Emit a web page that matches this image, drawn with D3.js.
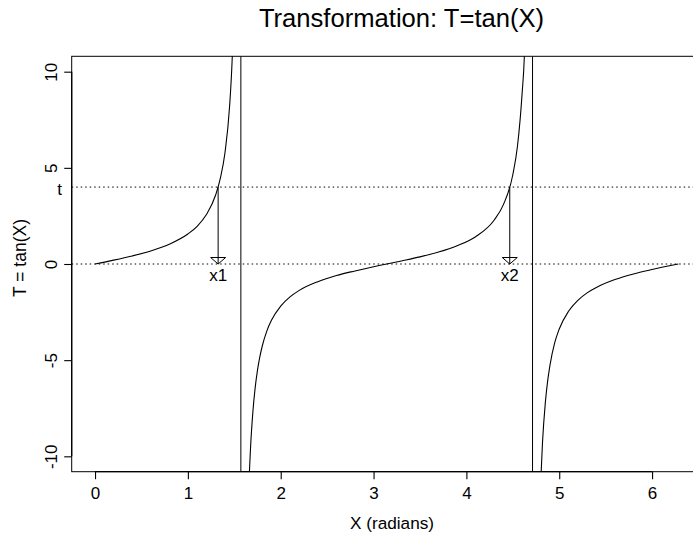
<!DOCTYPE html>
<html>
<head>
<meta charset="utf-8">
<script src="https://cdn.jsdelivr.net/npm/d3@7"></script>
<style>
  body { margin: 0; background: #fff; }
  svg { display: block; font-family: "Liberation Sans", Arial, sans-serif; }
</style>
</head>
<body>
<div id="chart"></div>
<script>
// curve, one list per branch
const xBranch1 = [0, 0.2, 0.4, 0.6, 0.8, 1.0, 1.1, 1.2, 1.3, 1.35, 1.4, 1.45, 1.475, 1.5, 1.52];
const tBranch1 = [0, 0.20, 0.42, 0.68, 1.03, 1.56, 1.96, 2.57, 3.60, 4.46, 5.80, 8.24, 10.4, 14.1, 19.7];

const xBranch2 = [1.62, 1.65, 1.675, 1.7, 1.725, 1.75, 1.775, 1.8, 1.85, 1.9, 2.0, 2.1, 2.2, 2.4, 2.6, 2.8, 3.0, 3.1416, 3.3, 3.5, 3.7, 3.9, 4.1, 4.3, 4.4, 4.5, 4.55, 4.6, 4.625, 4.65, 4.68];
const tBranch2 = [-19.9, -12.6, -9.56, -7.70, -6.43, -5.52, -4.83, -4.29, -3.49, -2.93, -2.19, -1.71, -1.37, -0.92, -0.60, -0.36, -0.14, 0, 0.16, 0.37, 0.62, 0.95, 1.42, 2.29, 3.10, 4.64, 6.12, 8.86, 10.9, 16.0, 30.9];

const xBranch3 = [4.74, 4.76, 4.78, 4.8, 4.82, 4.85, 4.875, 4.9, 4.95, 5.0, 5.1, 5.2, 5.3, 5.4, 5.6, 5.8, 6.0, 6.2, 6.2832];
const tBranch3 = [-36.2, -21.0, -14.3, -11.4, -9.26, -7.22, -6.09, -5.27, -4.12, -3.38, -2.46, -1.89, -1.50, -1.22, -0.81, -0.52, -0.29, -0.08, 0];

const asymptotes = [1.5708, 4.7124];
const tLevel = 4;
const roots = [1.326, 4.467];
const rootLabels = ['x1', 'x2'];

const xTicks = [0, 1, 2, 3, 4, 5, 6];
const yTicks = [-10, -5, 0, 5, 10];

const width = 693, height = 539;
const margin = { left: 71.7, top: 56.3 };
const plotW = 630, plotH = 415.4;

const fmt = d => String(d); // plain hyphen minus, like R

const svg = d3.select('#chart').append('svg')
  .attr('width', width)
  .attr('height', height);

const x = d3.scaleLinear().domain([-0.2513, 6.5345]).range([margin.left, margin.left + plotW]);
const y = d3.scaleLinear().domain([-10.8, 10.8]).range([margin.top + plotH, margin.top]);

svg.append('clipPath').attr('id', 'plotclip')
  .append('rect')
  .attr('x', margin.left).attr('y', margin.top)
  .attr('width', plotW).attr('height', plotH);

const plot = svg.append('g').attr('clip-path', 'url(#plotclip)');

// reference lines
[0, tLevel].forEach(v => {
  plot.append('line')
    .attr('x1', margin.left).attr('x2', margin.left + plotW)
    .attr('y1', y(v)).attr('y2', y(v))
    .attr('stroke', '#000')
    .attr('stroke-width', 1)
    .attr('stroke-dasharray', '1.5,3');
});

// asymptotes
asymptotes.forEach(a => {
  plot.append('line')
    .attr('x1', x(a)).attr('x2', x(a))
    .attr('y1', margin.top).attr('y2', margin.top + plotH)
    .attr('stroke', '#000')
    .attr('stroke-width', 1);
});

const line = d3.line()
  .x(d => x(d[0]))
  .y(d => y(d[1]))
  .curve(d3.curveMonotoneX);

[[xBranch1, tBranch1], [xBranch2, tBranch2], [xBranch3, tBranch3]].forEach(([xs, ts]) => {
  plot.append('path')
    .datum(xs.map((v, i) => [v, ts[i]]))
    .attr('fill', 'none')
    .attr('stroke', '#000')
    .attr('stroke-width', 1.1)
    .attr('d', line);
});

// arrows down to the roots
roots.forEach((r, i) => {
  const px = x(r);
  const tipY = y(0);
  plot.append('line')
    .attr('x1', px).attr('x2', px)
    .attr('y1', y(tLevel)).attr('y2', tipY)
    .attr('stroke', '#000')
    .attr('stroke-width', 1);
  plot.append('path')
    .attr('d', `M${px - 7.5},${tipY - 6.5}L${px + 7.5},${tipY - 6.5}L${px},${tipY}Z`)
    .attr('fill', 'none')
    .attr('stroke', '#000')
    .attr('stroke-width', 1);
  svg.append('text')
    .attr('x', px)
    .attr('y', tipY + 17)
    .attr('text-anchor', 'middle')
    .attr('font-size', 17)
    .text(rootLabels[i]);
});

// box
svg.append('rect')
  .attr('x', margin.left).attr('y', margin.top)
  .attr('width', plotW).attr('height', plotH)
  .attr('fill', 'none')
  .attr('stroke', '#000')
  .attr('stroke-width', 1);

// x axis
const xAxis = svg.append('g')
  .attr('transform', `translate(0,${margin.top + plotH})`)
  .call(d3.axisBottom(x).tickValues(xTicks).tickSize(7.5).tickSizeOuter(0).tickPadding(8).tickFormat(fmt));
xAxis.select('.domain').remove();
xAxis.append('line')
  .attr('x1', x(xTicks[0])).attr('x2', x(xTicks[xTicks.length - 1]))
  .attr('stroke', '#000').attr('stroke-width', 1.3);
xAxis.selectAll('.tick line').attr('stroke-width', 1.1);
xAxis.selectAll('.tick text')
  .attr('font-size', 17)
  .attr('fill', '#000')
  .attr('font-family', '"Liberation Sans", Arial, sans-serif');

// y axis
const yAxis = svg.append('g')
  .attr('transform', `translate(${margin.left},0)`)
  .call(d3.axisLeft(y).tickValues(yTicks).tickSize(7.5).tickSizeOuter(0).tickFormat(fmt));
yAxis.select('.domain').remove();
yAxis.append('line')
  .attr('y1', y(yTicks[0])).attr('y2', y(yTicks[yTicks.length - 1]))
  .attr('stroke', '#000').attr('stroke-width', 1.3);
yAxis.selectAll('.tick line').attr('stroke-width', 1.1);
yAxis.selectAll('.tick text')
  .attr('x', null).attr('dy', null)
  .attr('text-anchor', 'middle')
  .attr('transform', 'translate(-14.5,0) rotate(-90)')
  .attr('font-size', 17)
  .attr('fill', '#000')
  .attr('font-family', '"Liberation Sans", Arial, sans-serif');

// t label on the axis
svg.append('text')
  .attr('x', 62)
  .attr('y', y(tLevel) + 7.5)
  .attr('text-anchor', 'end')
  .attr('font-size', 17)
  .text('t');

// titles
svg.append('text')
  .attr('x', 401.5)
  .attr('y', 27)
  .attr('text-anchor', 'middle')
  .attr('font-size', 25.6)
  .text('Transformation: T=tan(X)');

svg.append('text')
  .attr('x', 392)
  .attr('y', 529)
  .attr('text-anchor', 'middle')
  .attr('font-size', 17.2)
  .text('X (radians)');

svg.append('text')
  .attr('transform', 'translate(25.5,258) rotate(-90)')
  .attr('text-anchor', 'middle')
  .attr('font-size', 17.5)
  .text('T = tan(X)');
</script>
</body>
</html>
